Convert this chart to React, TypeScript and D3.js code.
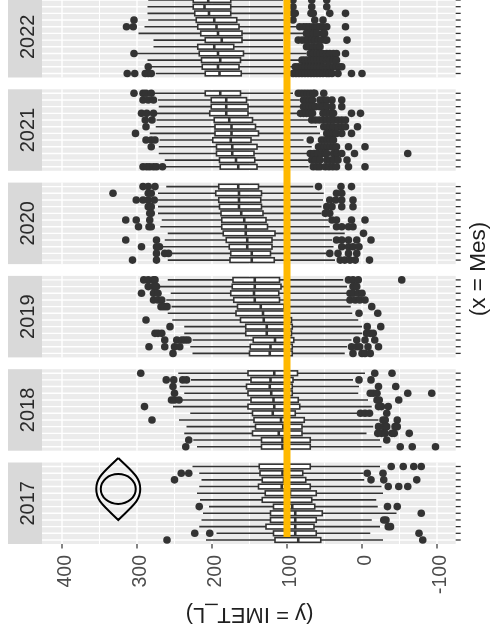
import React from "react";
import * as d3 from "d3";

type Stat = [number, number, number, number, number];

const years = ["2017", "2018", "2019", "2020", "2021", "2022"];
const months = ["r1", "r2", "r3", "r4", "r5", "r6", "r7", "r8", "r9", "r10", "r11", "r12"];
const valueTicks = [400, 300, 200, 100, 0, -100];
const gridValues = [400, 350, 300, 250, 200, 150, 100, 50, 0, -50, -100];
const referenceValue = 100;

// each row: upper whisker, Q3, median, Q1, lower whisker (top row of the panel first)
const stats2017: Stat[] = [[226,137,100,69,-24],[217,136,106,79,-2],[214,133,104,75,-3],[217,138,107,69,-26],[220,129,96,61,-28],[216,133,100,67,-19],[204,118,93,63,-21],[212,122,89,53,-46],[214,122,89,61,-13],[217,128,89,64,-24],[194,118,89,61,-11],[208,116,85,55,-28]];
const outliers2017: number[][] = [[-39,-55,-69,-79],[241,231,-7,-28],[250,-12,-29,-73],[-35,-49,-61],[],[],[217,-34,-47],[-79],[-32,-29],[-35,-38],[223,203,-76],[260,-81]];

const stats2018: Stat[] = [[245,152,117,86,-4],[228,148,122,92,12],[243,154,123,93,4],[237,152,121,93,5],[240,148,118,85,-8],[252,152,117,83,-13],[229,146,119,89,5],[244,144,108,77,-22],[234,142,105,80,-15],[237,146,111,80,-6],[225,134,106,69,-24],[220,134,106,69,-26]];
const outliers2018: number[][] = [[295,-17,-40],[261,251,239,234,4,-12],[252,-22,-45],[250,-11,-15,-20,-61,-93],[254,250,244,-20,-23,-49],[290,-22,-26,-35],[2,-4,-10,-33],[280,-28,-31,-47],[-22,-29,-33,-44,-47],[-21,-26,-31,-40,-43,-63],[231,-33],[235,-51,-67,-98]];

const stats2019: Stat[] = [[259,172,143,110,25],[270,173,143,108,20],[255,175,144,111,20],[261,171,143,110,20],[254,166,135,104,15],[259,168,132,101,13],[253,162,131,94,5],[237,155,127,93,0],[237,155,127,94,0],[226,145,116,91,14],[229,149,122,93,20],[226,150,123,93,23]];
const outliers2019: number[][] = [[291,285,278,276,18,12,5,-53],[285,278,274,12,7],[294,278,272,16,12,5,0],[278,272,267,16,9,3,-4],[268,264,260,-13],[4,-21],[288],[256,-7,-25],[276,272,267,-6,-11,-15],[263,247,240,236,232,7,-4,-17],[284,263,250,243,14,7,3,-8,-22],[252,12,0,-4,-11]];

const stats2020: Stat[] = [[261,191,165,138,65],[272,195,164,134,51],[272,191,164,135,52],[272,190,164,134,54],[272,188,161,132,54],[267,187,157,128,45],[269,187,155,126,43],[259,185,155,116,23],[263,181,153,120,40],[266,177,153,120,38],[254,175,147,122,47],[259,176,147,117,36]];
const outliers2020: number[][] = [[292,285,276,58,28,14],[332,285,281,34,27],[301,292,285,277,43,35,27,12],[285,281,47,40,27,12],[283,281,49,43],[315,301,283,40,34,14,-4],[298,284,281,34,27,18,12],[-2],[315,274,34,27,18,7,-12],[294,274,270,27,18,12,4],[274,263,258,43,32,18,7],[306,274,29,23,16,9,-10]];

const stats2021: Stat[] = [[276,209,189,162,92],[272,201,181,154,83],[271,201,181,152,80],[275,203,181,152,83],[274,197,177,146,69],[275,196,174,142,60],[283,196,174,138,56],[270,199,175,148,78],[271,194,173,140,67],[271,194,173,144,73],[263,190,168,143,72],[263,189,165,140,71]];
const outliers2021: number[][] = [[304,292,288,281,85,81,77,73,69,65,63,51],[292,285,278,78,74,70,66,56,52,47,40,27],[78,74,70,66,62,56,52,47,40,27],[294,287,278,82,78,74,70,66,52,47,42,38,14,2],[289,280,67,62,57,52,47,42,37,32,27,22],[288,51,46,42,38,32,27,22,6],[302,47,42,38,34,27,14],[288,281,276,69,54,50,46,42,38],[281,58,54,50,46,42,38,34,18,-4],[69,64,59,54,49,47,38,33,27,10,-61],[67,62,56,47,42,38,32,20],[292,287,283,278,274,266,65,60,56,49,44,39,34,18,-4]];

const stats2022: Stat[] = [[285,225,205,175,105],[286,225,210,175,106],[286,223,204,175,105],[285,221,197,167,100],[290,219,194,164,87],[298,215,192,160,74],[278,209,187,160,105],[278,219,197,171,105],[304,217,192,158,74],[286,214,189,162,80],[283,213,192,164,83],[275,209,190,161,94]];
const outliers2022: number[][] = [[92,67,47],[92,67,47],[92,89,68,65,43,22],[304,92,63,52],[314,305,83,78,74,70,65,60,56,52,47,22],[74,70,65,60,52,50],[85,80,76,72,67,63,58,54,49,47,20],[74,70,65,60,56],[304,69,65,60,56,52,47,43,38,34,22],[80,76,72,68,64,60,56,52,47,43,38,34],[285,89,85,80,76,72,68,64,60,56,52,47,43,38,34,30,27],[313,303,289,285,281,92,88,84,80,76,72,68,64,60,56,52,47,44,40,32,14,0]];

const allStats = [stats2017, stats2018, stats2019, stats2020, stats2021, stats2022];
const allOutliers = [outliers2017, outliers2018, outliers2019, outliers2020, outliers2021, outliers2022];

const WIDTH = 490;
const HEIGHT = 643;
const PANEL_LEFT = 42;
const PANEL_RIGHT = 455.7;
const STRIP_LEFT = 8;
const FIRST_BOTTOM = 544;
const PANEL_H = 81.5;
const PANEL_STEP = 93.3;
const INK = "#333333";

const x = d3.scaleLinear().domain([400, -100]).range([62, 437]);

const eyeCx = x(325);
const eyeCy = 489;
const eyePath = (() => {
  const p = d3.path();
  p.moveTo(eyeCx, eyeCy - 31);
  p.bezierCurveTo(eyeCx + 14, eyeCy - 17, eyeCx + 22, eyeCy - 12, eyeCx + 22, eyeCy);
  p.bezierCurveTo(eyeCx + 22, eyeCy + 12, eyeCx + 14, eyeCy + 17, eyeCx, eyeCy + 31);
  p.bezierCurveTo(eyeCx - 14, eyeCy + 17, eyeCx - 22, eyeCy + 12, eyeCx - 22, eyeCy);
  p.bezierCurveTo(eyeCx - 22, eyeCy - 12, eyeCx - 14, eyeCy - 17, eyeCx, eyeCy - 31);
  return p.toString();
})();

const font = "'Liberation Sans', Arial, sans-serif";

function Panel({ index }: { index: number }) {
  const bottom = FIRST_BOTTOM - PANEL_STEP * index;
  const top = bottom - PANEL_H;
  const y = d3.scalePoint<string>().domain(months).range([top, bottom]).padding(0.6);
  const stats = allStats[index];
  const outliers = allOutliers[index];
  const boxH = y.step() * 0.7;
  return (
    <g>
      <rect x={STRIP_LEFT} y={top} width={PANEL_LEFT - STRIP_LEFT} height={PANEL_H} fill="#D9D9D9" />
      <text
        transform={`translate(${(STRIP_LEFT + PANEL_LEFT) / 2 + 2},${(top + bottom) / 2}) rotate(-90)`}
        textAnchor="middle"
        dominantBaseline="central"
        fontFamily={font}
        fontSize={20}
        fill="#2a2a2a"
      >
        {years[index]}
      </text>
      <rect x={PANEL_LEFT} y={top} width={PANEL_RIGHT - PANEL_LEFT} height={PANEL_H} fill="#EBEBEB" />
      {gridValues.map((v) => (
        <line key={v} x1={x(v)} x2={x(v)} y1={top} y2={bottom} stroke="#fff" strokeWidth={v % 100 === 0 ? 1.4 : 1} />
      ))}
      {months.map((m) => (
        <g key={m}>
          <line x1={PANEL_LEFT} x2={PANEL_RIGHT} y1={y(m)} y2={y(m)} stroke="#fff" strokeWidth={1.4} />
          <line x1={PANEL_RIGHT} x2={PANEL_RIGHT + 5} y1={y(m)} y2={y(m)} stroke={INK} strokeWidth={1.3} />
        </g>
      ))}
      {months.map((m, i) => {
        const [hi, q3, med, q1, lo] = stats[i];
        const cy = y(m) as number;
        return (
          <g key={m}>
            <line x1={x(hi)} x2={x(q3)} y1={cy} y2={cy} stroke={INK} strokeWidth={1.6} />
            <line x1={x(q1)} x2={x(lo)} y1={cy} y2={cy} stroke={INK} strokeWidth={1.6} />
            <rect x={x(q3)} y={cy - boxH / 2} width={x(q1) - x(q3)} height={boxH} fill="#fff" stroke={INK} strokeWidth={1.6} />
            <line x1={x(med)} x2={x(med)} y1={cy - boxH / 2} y2={cy + boxH / 2} stroke={INK} strokeWidth={2.6} />
            {outliers[i].map((v, k) => (
              <circle key={k} cx={x(v)} cy={cy} r={3.8} fill={INK} />
            ))}
          </g>
        );
      })}
    </g>
  );
}

export default function App() {
  return (
    <svg
      width={WIDTH}
      height={HEIGHT}
      viewBox={`0 0 ${WIDTH} ${HEIGHT}`}
      style={{ position: "absolute", left: 0, top: 0, display: "block", filter: "blur(0.35px)" }}
    >
      <rect width={WIDTH} height={HEIGHT} fill="#fff" />
      {years.map((yr, i) => (
        <Panel key={yr} index={i} />
      ))}
      <line x1={x(referenceValue)} x2={x(referenceValue)} y1={0} y2={537} stroke="#FFB900" strokeWidth={7} />
      <path d={eyePath} fill="none" stroke="#000" strokeWidth={2} />
      <ellipse cx={eyeCx} cy={eyeCy} rx={17.5} ry={15} fill="none" stroke="#000" strokeWidth={2} />
      {valueTicks.map((v) => (
        <g key={v}>
          <line x1={x(v)} x2={x(v)} y1={FIRST_BOTTOM} y2={FIRST_BOTTOM + 4.5} stroke={INK} strokeWidth={1.2} />
          <text
            transform={`translate(${x(v) + 2},555) rotate(-90)`}
            textAnchor="end"
            dominantBaseline="central"
            fontFamily={font}
            fontSize={19.5}
            fill="#4D4D4D"
          >
            {v}
          </text>
        </g>
      ))}
      <text
        transform="translate(249.5,615) rotate(180)"
        textAnchor="middle"
        dominantBaseline="central"
        fontFamily={font}
        fontSize={22}
        fill="#1f1f1f"
      >
        (y = IMET_L)
      </text>
      <text
        transform="translate(477.5,269) rotate(-90)"
        textAnchor="middle"
        dominantBaseline="central"
        fontFamily={font}
        fontSize={22.5}
        fill="#1f1f1f"
      >
        (x = Mes)
      </text>
    </svg>
  );
}
